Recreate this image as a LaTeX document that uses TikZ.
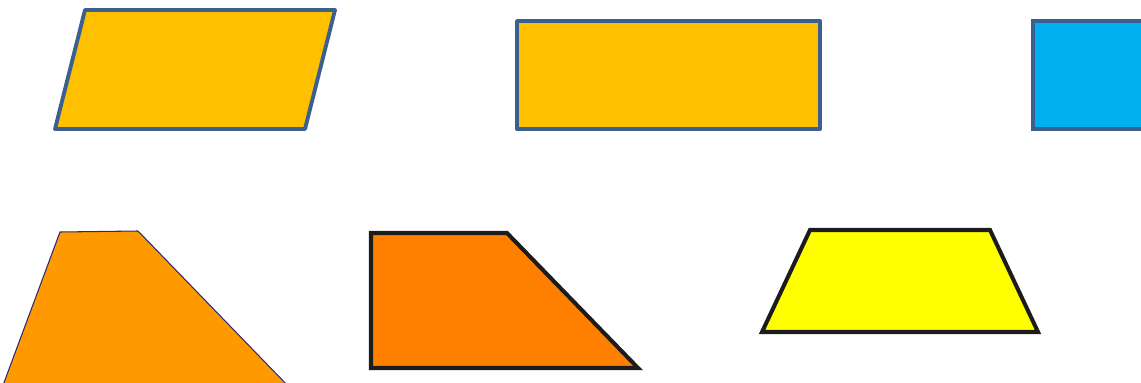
\documentclass[tikz,border=0pt]{standalone}
\usepackage{xcolor}
\usepackage{tikz}
\definecolor{goldcol}{RGB}{255,192,0}
\definecolor{skycol}{RGB}{0,176,240}
\definecolor{edgecol}{RGB}{59,96,144}
\definecolor{ambercol}{RGB}{255,153,0}
\definecolor{purpcol}{RGB}{50,40,110}
\definecolor{tangcol}{RGB}{255,128,0}
\definecolor{lemoncol}{RGB}{255,255,0}
\definecolor{inkcol}{RGB}{28,28,28}

\begin{document}
\begin{tikzpicture}[
  x=0.02cm, y=-0.02cm,
  blueedge/.style={draw=edgecol, line width=2.2pt},
  blackedge/.style={draw=inkcol, line width=2.3pt},
]
\useasboundingbox (0,0) rectangle (1141,382);
\clip (0,0) rectangle (1141,382);
% top row
\filldraw[fill=goldcol, blueedge, line join=round]
  (85,10) -- (335,10) -- (305,129) -- (55,129) -- cycle;
\filldraw[fill=goldcol, blueedge, line join=round]
  (517,21) -- (820,21) -- (820,129) -- (517,129) -- cycle;
\filldraw[fill=skycol, blueedge]
  (1033,21) -- (1160,21) -- (1160,129) -- (1033,129) -- cycle;
% bottom row
\filldraw[fill=ambercol, draw=purpcol, line width=0.6pt]
  (60,232) -- (138,231) -- (290,388) -- (2,388) -- cycle;
\filldraw[fill=tangcol, blackedge]
  (371,233) -- (507,233) -- (638,368) -- (371,368) -- cycle;
\filldraw[fill=lemoncol, blackedge]
  (810,230) -- (990,230) -- (1038,332) -- (762,332) -- cycle;
\end{tikzpicture}
\end{document}
